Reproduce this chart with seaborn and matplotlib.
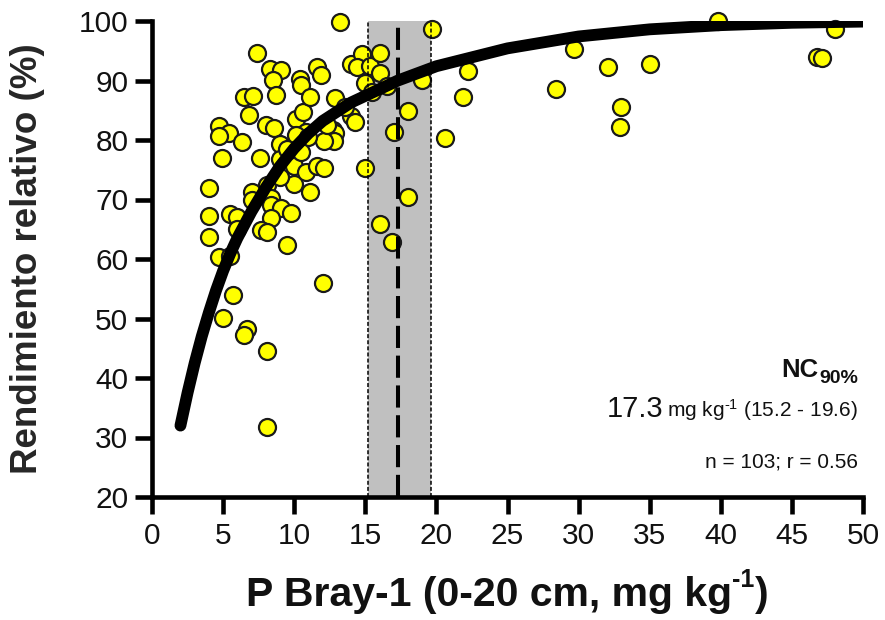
import numpy as np
import pandas as pd
import matplotlib
matplotlib.use("Agg")
import matplotlib.pyplot as plt
import seaborn as sns

# ---- data ----
p_bray = [7.4, 8.3, 9.1, 8.5, 8.7, 6.5, 7.1, 6.8, 8.0, 8.6,
          4.7, 5.4, 4.7, 6.3, 9.0, 10.1, 10.6, 10.4, 10.5, 11.6,
          11.9, 11.1, 12.9, 14.0, 14.8, 14.4, 15.3, 16.0, 16.0, 15.0,
          14.0, 14.3, 12.7, 12.9, 12.8, 12.1, 10.8, 10.1, 17.0, 4.9,
          7.6, 9.0, 10.0, 10.0, 4.0, 7.0, 8.1, 8.4, 8.4, 9.1,
          9.8, 8.4, 4.0, 5.5, 6.0, 7.7, 8.1, 4.0, 9.5, 4.7,
          10.8, 11.6, 12.1, 11.1, 15.0, 16.0, 16.9, 12.0, 5.7, 5.0,
          6.7, 6.5, 8.1, 8.1, 13.2, 19.7, 19.0, 22.2, 21.9, 18.0,
          20.6, 18.0, 39.8, 48.0, 46.8, 47.1, 29.7, 32.1, 35.0, 28.4,
          33.0, 32.9, 9.5, 11.0, 7.0, 6.0, 12.3, 16.5, 13.6, 5.5,
          9.0, 10.5, 15.5]
rend_rel = [94.7, 91.9, 91.8, 90.1, 87.6, 87.2, 87.4, 84.2, 82.6, 82.0,
            82.4, 81.1, 80.6, 79.6, 79.4, 83.5, 84.7, 90.2, 89.3, 92.2,
            91.0, 87.3, 87.0, 92.7, 94.4, 92.2, 92.5, 94.7, 91.2, 89.5,
            84.0, 83.0, 81.7, 81.1, 79.8, 79.8, 81.4, 80.8, 81.4, 77.0,
            76.9, 76.8, 75.7, 72.6, 72.0, 71.3, 72.4, 70.3, 69.0, 68.5,
            67.7, 66.9, 67.3, 67.5, 67.1, 64.9, 64.5, 63.7, 62.4, 60.3,
            74.6, 75.7, 75.3, 71.2, 75.3, 65.8, 62.9, 55.9, 53.9, 50.1,
            48.2, 47.3, 44.5, 31.8, 99.8, 98.6, 90.1, 91.6, 87.2, 84.9,
            80.4, 70.4, 100.0, 98.7, 94.0, 93.7, 95.3, 92.2, 92.7, 88.6,
            85.6, 82.2, 78.5, 80.5, 70.0, 65.0, 82.5, 89.0, 85.5, 60.5,
            73.8, 78.0, 88.0]

# fitted response curve
curve_x = [2, 2.5, 3, 3.5, 4, 4.5, 5, 5.5, 6, 7, 8, 9, 10, 11, 12, 14,
           17.3, 20, 25, 30, 35, 40, 45, 50]
curve_y = [32, 37.5, 42.5, 47, 51, 54.7, 58, 60.9, 63.5, 68, 72, 75.6,
           78.6, 81.1, 83.2, 86.3, 90, 92.4, 95.4, 97.4, 98.6, 99.3, 99.7,
           99.9]

nc_value = 17.3
nc_low = 15.2
nc_high = 19.6
n_obs = 103
r_value = 0.56

x_ticks = list(range(0, 51, 5))
y_ticks = list(range(20, 101, 10))

# ---- style ----
sns.set_style("ticks")
plt.rcParams['font.family'] = ['Liberation Sans', 'DejaVu Sans']
plt.rcParams['mathtext.fontset'] = 'custom'
plt.rcParams['mathtext.rm'] = 'Liberation Sans'
plt.rcParams['mathtext.bf'] = 'Liberation Sans:bold'
plt.rcParams['mathtext.default'] = 'regular'

W, H = 885, 620
fig = plt.figure(figsize=(W / 100, H / 100), dpi=100)
ax = fig.add_axes([152 / W, 1 - 497 / H, (863 - 152) / W, (497 - 21) / H])

# critical range band
ax.axvspan(nc_low, nc_high, color='#c0c0c0', lw=0, zorder=1)

df = pd.DataFrame({'P': p_bray, 'RR': rend_rel})
sns.scatterplot(data=df, x='P', y='RR', s=150, color='#ffff00',
                edgecolor='#1a1a1a', linewidth=1.6, zorder=3, ax=ax,
                clip_on=False, legend=False)

for xv in (nc_low, nc_high):
    ax.axvline(xv, color='black', lw=1.1, ls=(0, (2.6, 1.4)), zorder=4)
ax.axvline(nc_value, color='black', lw=2.9, ls=(0, (5.5, 1.9)), zorder=4)

cdf = pd.DataFrame({'x': curve_x, 'y': curve_y})
sns.lineplot(data=cdf, x='x', y='y', color='black', lw=8.5, ax=ax,
             estimator=None, sort=False, zorder=5,
             solid_capstyle='round', solid_joinstyle='round')

ax.set_xlim(0, 50)
ax.set_ylim(20, 100)
ax.set_xticks(x_ticks)
ax.set_yticks(y_ticks)
for s in ('top', 'right'):
    ax.spines[s].set_visible(False)
for s in ('left', 'bottom'):
    ax.spines[s].set_linewidth(3.3)
    ax.spines[s].set_color('black')
ax.tick_params(axis='both', length=12, width=3.3, labelsize=21.5,
               direction='out', color='black', labelcolor='#111111')
ax.tick_params(axis='x', pad=6)
ax.tick_params(axis='y', pad=5)

ax.set_xlabel('')
ax.set_ylabel('Rendimiento relativo (%)', fontsize=26.5, fontweight='bold')
ax.yaxis.set_label_coords(-0.15, 0.5)

renderer = fig.canvas.get_renderer()

# x label built from pieces so the bold superscript keeps a hyphen
xl_main = 'P Bray-1 (0-20 cm, mg kg'
xl_sup = '-1'
xl_end = ')'
yb = 1 - 606 / H
ta = fig.text(0, yb, xl_main, fontsize=29.5, fontweight='bold',
              ha='left', va='baseline', color='#111111')
tb = fig.text(0, yb + 19 / H, xl_sup, fontsize=18, fontweight='bold',
              ha='left', va='baseline', color='#111111')
tc = fig.text(0, yb, xl_end, fontsize=29.5, fontweight='bold',
              ha='left', va='baseline', color='#111111')
fig.canvas.draw()
wa = ta.get_window_extent(renderer).width
wb = tb.get_window_extent(renderer).width
wc = tc.get_window_extent(renderer).width
total = wa + wb + wc + 1
x0 = (152 + 863) / 2 - total / 2
ta.set_x(x0 / W)
tb.set_x((x0 + wa) / W)
tc.set_x((x0 + wa + wb + 1) / W)

# annotations
xr = (858 - 152) / (863 - 152)
sub = ax.text(xr, 0.239, '90%', transform=ax.transAxes, ha='right',
              va='baseline', fontsize=14, fontweight='bold', color='#111111')
fig.canvas.draw()
bb = sub.get_window_extent(renderer)
xs = ax.transAxes.inverted().transform((bb.x0 - 1, bb.y0))[0]
ax.text(xs, 0.252, 'NC', transform=ax.transAxes, ha='right',
        va='baseline', fontsize=18.5, fontweight='bold', color='#111111')

t1 = ax.text(xr, 0.168, rf'mg kg$^{{\text{{-1}}}}$ ({nc_low} - {nc_high})',
             transform=ax.transAxes, ha='right', va='baseline',
             fontsize=15, color='#111111')
ax.text(xr, 0.061, f'n = {n_obs}; r = {r_value}', transform=ax.transAxes,
        ha='right', va='baseline', fontsize=15, color='#111111')

fig.canvas.draw()
bb = t1.get_window_extent(renderer)
x_left = ax.transAxes.inverted().transform((bb.x0 - 4, bb.y0))[0]
ax.text(x_left, 0.168, f'{nc_value}', transform=ax.transAxes, ha='right',
        va='baseline', fontsize=21, color='#111111')

fig.savefig('out.png', dpi=100)
